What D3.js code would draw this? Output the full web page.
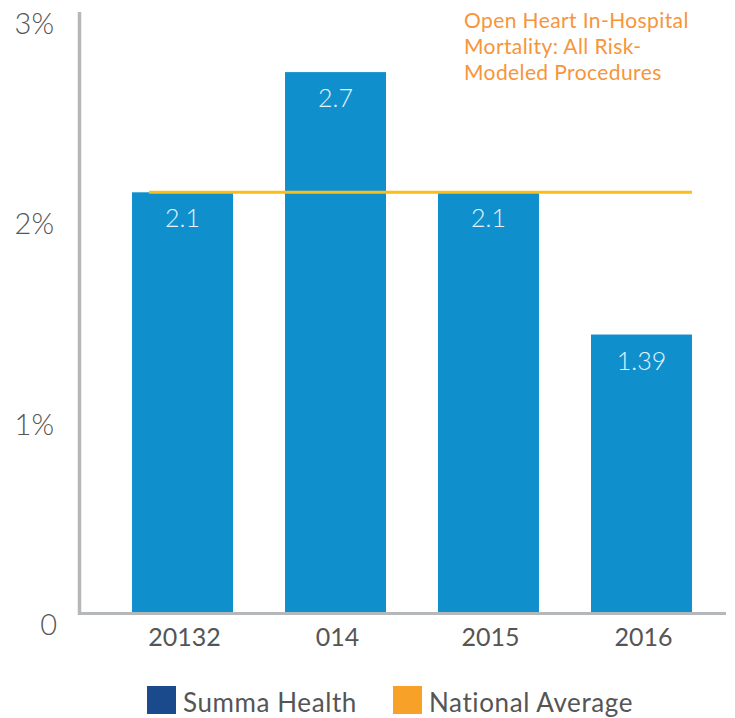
<!DOCTYPE html>
<html><head><meta charset="utf-8">
<script src="https://cdn.jsdelivr.net/npm/d3@7"></script>
<style>body{margin:0;background:#fff}svg{display:block}text{font-family:Lato,"Open Sans",sans-serif}</style>
</head><body>
<script>
const categories = ["20132", "014", "2015", "2016"];
const summaValues = [2.1, 2.7, 2.1, 1.39];
const valueLabels = ["2.1", "2.7", "2.1", "1.39"];
const nationalAverage = 2.1;
const yTicks = [0, 1, 2, 3];
const yTickLabels = ["0", "1%", "2%", "3%"];
const titleLines = ["Open Heart In-Hospital", "Mortality: All Risk-", "Modeled Procedures"];
const legendItems = ["Summa Health", "National Average"];

const W = 735, H = 718;
const svg = d3.select("body").append("svg").attr("width", W).attr("height", H);

const y = d3.scaleLinear().domain([0, 3]).range([613, 12]);
const x = d3.scaleBand().domain(categories).range([80, 744]).paddingInner(0.34).paddingOuter(0.34);

// bars
svg.selectAll("rect.bar").data(summaValues).join("rect")
  .attr("class", "bar")
  .attr("x", (d, i) => x(categories[i]))
  .attr("width", x.bandwidth())
  .attr("y", d => y(d))
  .attr("height", d => y(0) - y(d))
  .attr("fill", "#0f90cd");

// value labels
svg.selectAll("text.val").data(summaValues).join("text")
  .attr("class", "val")
  .attr("x", (d, i) => x(categories[i]) + x.bandwidth() / 2)
  .attr("y", d => y(d) + 35)
  .attr("text-anchor", "middle")
  .attr("font-size", 25)
  .attr("font-weight", 300)
  .attr("fill", "#e6f3fb")
  .text((d, i) => valueLabels[i]);

// national average line
svg.append("line")
  .attr("x1", x(categories[0]) + 17)
  .attr("x2", x(categories[categories.length - 1]) + x.bandwidth())
  .attr("y1", y(nationalAverage))
  .attr("y2", y(nationalAverage))
  .attr("stroke", "#fbbd19")
  .attr("stroke-width", 3);

// axes
svg.append("line").attr("x1", 79.5).attr("x2", 79.5).attr("y1", y(3)).attr("y2", 615)
  .attr("stroke", "#b5b8bb").attr("stroke-width", 3.5);
svg.append("line").attr("x1", 78).attr("x2", 726).attr("y1", 613.5).attr("y2", 613.5)
  .attr("stroke", "#b5b8bb").attr("stroke-width", 3);

// y tick labels
svg.selectAll("text.ytick").data(yTicks).join("text")
  .attr("class", "ytick")
  .attr("x", d => d === 0 ? 57 : 54)
  .attr("y", d => y(d) + 22)
  .attr("text-anchor", "end")
  .attr("font-size", 29)
  .attr("font-weight", 300)
  .attr("fill", "#555")
  .text((d, i) => yTickLabels[i]);

// x labels
svg.selectAll("text.xlab").data(categories).join("text")
  .attr("class", "xlab")
  .attr("x", d => x(d) + x.bandwidth() / 2 + 2)
  .attr("y", 646)
  .attr("text-anchor", "middle")
  .attr("font-size", 25)
  .attr("fill", "#555")
  .text(d => d);

// title
svg.selectAll("text.title").data(titleLines).join("text")
  .attr("class", "title")
  .attr("x", 464)
  .attr("y", (d, i) => 28 + i * 26)
  .attr("font-size", 21)
  .attr("letter-spacing", 0.4)
  .attr("fill", "#f7953a")
  .text(d => d);

// legend
const legColors = ["#1b4a8c", "#f8a129"];
const legX = [147, 393];
legendItems.forEach((t, i) => {
  svg.append("rect").attr("x", legX[i]).attr("y", 686).attr("width", 29).attr("height", 28).attr("fill", legColors[i]);
  svg.append("text").attr("x", legX[i] + 36).attr("y", 712).attr("font-size", 26)
    .attr("letter-spacing", 0.6).attr("fill", "#555").text(t);
});
</script>
</body></html>
